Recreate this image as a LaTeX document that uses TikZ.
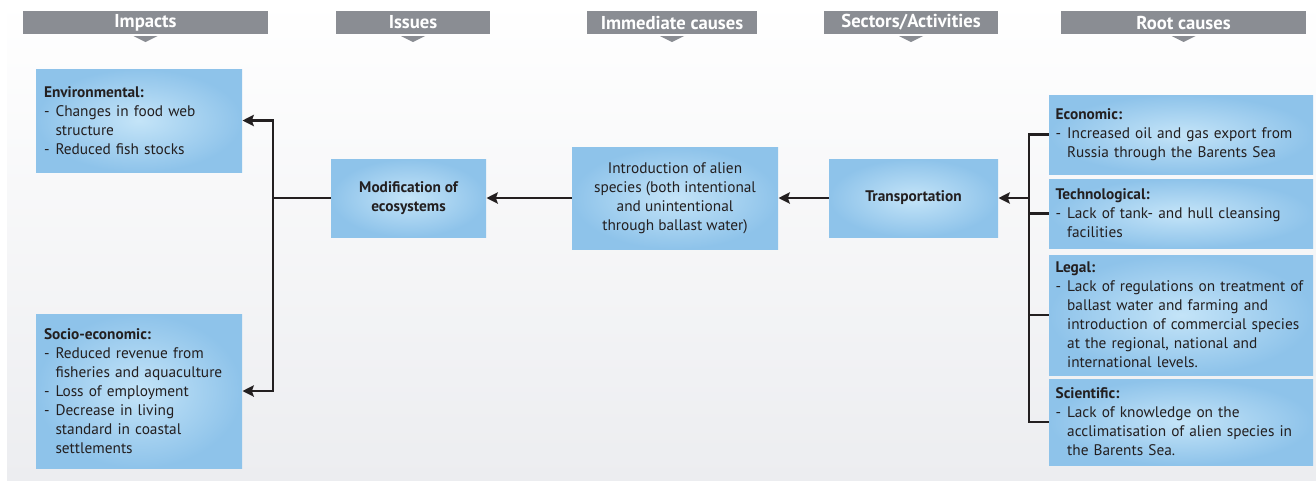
\documentclass[tikz,border=0pt]{standalone}
\usepackage{fontspec}
\setmainfont{PT Sans}
\usetikzlibrary{arrows.meta}

\definecolor{headGray}{RGB}{138,141,147}
\definecolor{boxOut}{RGB}{142,195,234}
\definecolor{boxIn}{RGB}{196,228,248}
\definecolor{inkDark}{RGB}{35,31,32}
\definecolor{bgGray}{RGB}{236,237,240}

\newcommand{\itm}{\makebox[0.75em][l]{-}}
\newcommand{\ind}{\hspace*{0.75em}}

\tikzset{
	box/.style={rectangle, shading=radial, inner color=boxIn, outer color=boxOut, inner sep=0pt, text=inkDark, font=\fontsize{11.5}{14.3}\selectfont},
	listbox/.style={box, align=left},
	midbox/.style={box, align=center},
	headbar/.style={rectangle, fill=headGray, inner sep=0pt, minimum height=17.25pt, text=white, font=\fontsize{14}{16}\selectfont\bfseries},
	link/.style={draw=inkDark, line width=1.7pt},
	arrowlink/.style={link, -{Stealth[length=8.5pt, width=8.5pt, inset=1.5pt]}}}
\tikzset{every picture/.style={line width=0.75pt}}

\begin{document}
\begin{tikzpicture}[x=0.75pt,y=0.75pt,yscale=-1,xscale=1]
	\useasboundingbox (0,0) rectangle (1316,480);
	%Background
	\shade [top color=white, bottom color=bgGray] (7,0) rectangle (1316,480);

	%Header bars
	\node [headbar, minimum width=183.75pt] (hImp) at (145.5,22.5) {Impacts};
	\node [headbar, minimum width=115.5pt] (hIss) at (413,22.5) {Issues};
	\node [headbar, minimum width=127.5pt] (hImm) at (672,22.5) {Immediate causes};
	\node [headbar, minimum width=130.5pt] (hSec) at (911,22.5) {Sectors/Activities};
	\node [headbar, minimum width=183.75pt] (hRoot) at (1183.5,22.5) {Root causes};
	%Header pointers
	\fill [headGray] (hImp.south) ++(-12,1.5) -- ++(24,0) -- ++(-12,6) -- cycle;
	\fill [headGray] (hIss.south) ++(-12,1.5) -- ++(24,0) -- ++(-12,6) -- cycle;
	\fill [headGray] (hImm.south) ++(-12,1.5) -- ++(24,0) -- ++(-12,6) -- cycle;
	\fill [headGray] (hSec.south) ++(-12,1.5) -- ++(24,0) -- ++(-12,6) -- cycle;
	\fill [headGray] (hRoot.south) ++(-12,1.5) -- ++(24,0) -- ++(-12,6) -- cycle;

	%Impacts
	\node [listbox, minimum width=154.5pt, minimum height=77.25pt, text width=142.5pt] (env) at (139,120.5) {\textbf{Environmental:}\\ \itm Changes in food web\\ \ind structure\\ \itm Reduced fish stocks};
	\node [listbox, minimum width=154.5pt, minimum height=115.5pt, text width=142.5pt] (soc) at (139,391) {\textbf{Socio-economic:}\\ \itm Reduced revenue from\\ \ind fisheries and aquaculture\\ \itm Loss of employment\\ \itm Decrease in living\\ \ind standard in coastal\\ \ind settlements};

	%Issues, immediate causes, sectors
	\node [midbox, minimum width=116.25pt, minimum height=58.5pt, font=\fontsize{11.5}{14.3}\selectfont\bfseries] (mod) at (408.5,198) {Modification of\\ecosystems};
	\node [midbox, minimum width=154.5pt, minimum height=76.5pt] (intro) at (675,198) {Introduction of alien\\species (both intentional\\and unintentional\\through ballast water)};
	\node [midbox, minimum width=126.75pt, minimum height=58.5pt, font=\fontsize{11.5}{14.3}\selectfont\bfseries] (trans) at (913.5,198) {Transportation};

	%Root causes
	\node [listbox, minimum width=198pt, minimum height=59.25pt, text width=188pt] (eco) at (1181,134.5) {\textbf{Economic:}\\ \itm Increased oil and gas export from\\ \ind Russia through the Barents Sea};
	\node [listbox, minimum width=198pt, minimum height=51.75pt, text width=188pt] (tech) at (1181,213.5) {\textbf{Technological:}\\ \itm Lack of tank- and hull cleansing\\ \ind facilities};
	\node [listbox, minimum width=198pt, minimum height=90pt, text width=188pt] (legal) at (1181,315) {\textbf{Legal:}\\ \itm Lack of regulations on treatment of\\ \ind ballast water and farming and\\ \ind introduction of commercial species\\ \ind at the regional, national and\\ \ind international levels.};
	\node [listbox, minimum width=198pt, minimum height=64.5pt, text width=188pt] (sci) at (1181,422) {\textbf{Scientific:}\\ \itm Lack of knowledge on the\\ \ind acclimatisation of alien species in\\ \ind the Barents Sea.};

	%Bus points
	\coordinate (busL) at (273,198);
	\coordinate (busR) at (1029,198);

	%Connectors
	\draw [link] (mod.west) -- (busL);
	\draw [arrowlink] (busL) |- (env.east);
	\draw [arrowlink] (busL) |- (soc.east);
	\draw [arrowlink] (intro.west) -- (mod.east);
	\draw [arrowlink] (trans.west) -- (intro.east);
	\draw [link] (eco.west) -| (busR) |- (sci.west);
	\draw [link] (tech.west) -- (tech.west -| busR);
	\draw [link] (legal.west) -- (legal.west -| busR);
	\draw [arrowlink] (busR) -- (trans.east);

\end{tikzpicture}
\end{document}
